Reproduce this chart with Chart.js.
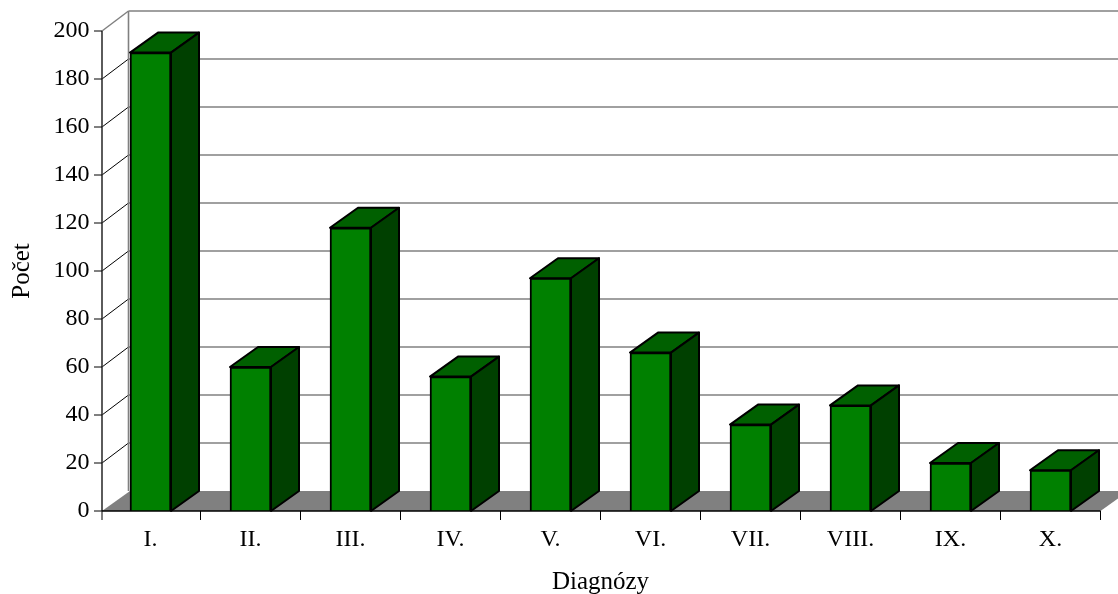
<!DOCTYPE html>
<html><head><meta charset="utf-8">
<style>html,body{margin:0;padding:0;background:#fff}canvas{display:block}</style>
<script src="https://cdn.jsdelivr.net/npm/chart.js@4/dist/chart.umd.min.js"></script>
</head><body><canvas id="c" width="1118" height="594"></canvas>
<script>
const categories = ["I.","II.","III.","IV.","V.","VI.","VII.","VIII.","IX.","X."];
const counts = [191,60,118,56,97,66,36,44,20,17];
const yMax = 200, yStep = 20;
const depthX = 28, depthY = 20, axisX = 102;
const fontFam = '"Liberation Serif","Times New Roman",serif';

function line(ctx,x1,y1,x2,y2,color,w){ctx.strokeStyle=color;ctx.lineWidth=w;ctx.beginPath();ctx.moveTo(x1,y1);ctx.lineTo(x2,y2);ctx.stroke();}
function poly(ctx,pts,fill,stroke,w){ctx.beginPath();pts.forEach((p,i)=>i?ctx.lineTo(p[0],p[1]):ctx.moveTo(p[0],p[1]));ctx.closePath();ctx.fillStyle=fill;ctx.fill();if(stroke){ctx.strokeStyle=stroke;ctx.lineWidth=w;ctx.lineJoin='round';ctx.stroke();}}

const box3d = {
  id:'box3d',
  beforeDatasetsDraw(chart){
    const ctx=chart.ctx,y=chart.scales.y,x=chart.scales.x,W=chart.width;
    const y0=y.getPixelForValue(0), xr=x.right;
    ctx.save();
    poly(ctx,[[axisX,y0],[axisX+depthX,y0-depthY],[xr+depthX,y0-depthY],[xr,y0]],'#808080');
    y.ticks.forEach(t=>{
      const py=y.getPixelForValue(t.value);
      if(t.value>0) line(ctx,axisX+depthX-1.5,py-depthY,W,py-depthY,'#808080',1.6);
      if(t.value>0 && t.value<yMax) line(ctx,axisX,py,axisX+depthX-1.5,py-depthY,'#000',1);
      if(t.value===yMax) line(ctx,axisX,py,axisX+depthX-1.5,py-depthY,'#808080',1.5);
    });
    line(ctx,axisX+depthX-1.5,y.getPixelForValue(yMax)-depthY,axisX+depthX-1.5,y0-depthY,'#808080',1.6);
    const m=chart.getDatasetMeta(0);
    m.data.forEach(b=>{
      const p=b.getProps(['x','y','base','width'],true);
      const l=p.x-p.width/2,r=p.x+p.width/2,t=p.y,bt=p.base;
      poly(ctx,[[l,t],[l+depthX,t-depthY],[r+depthX,t-depthY],[r,t]],'#006000','#000',2);
      poly(ctx,[[r,t],[r+depthX,t-depthY],[r+depthX,bt-depthY],[r,bt]],'#004000','#000',2);
    });
    ctx.restore();
  },
  afterDatasetsDraw(chart){
    const ctx=chart.ctx,y=chart.scales.y,x=chart.scales.x;
    const y0=y.getPixelForValue(0);
    ctx.save();
    line(ctx,axisX,y.getPixelForValue(yMax),axisX,y0,'#333',1.6);
    line(ctx,axisX,y0,x.right,y0,'#000',1.6);
    y.ticks.forEach(t=>{const py=y.getPixelForValue(t.value);line(ctx,axisX-8,py,axisX,py,'#000',1);});
    categories.forEach((c,i)=>{
      const px=i===0?axisX:x.getPixelForValue(i)-(x.getPixelForValue(1)-x.getPixelForValue(0))/2;
      line(ctx,px,y0,px,y0+9,'#000',1);
    });
    line(ctx,x.right,y0,x.right,y0+9,'#000',1);
    ctx.restore();
  }
};

new Chart(document.getElementById('c'),{
  type:'bar',
  data:{labels:categories,datasets:[{data:counts,backgroundColor:'#008000',borderColor:'#000',borderWidth:2,barThickness:41}]},
  plugins:[box3d],
  options:{
    responsive:false,animation:false,
    layout:{padding:{left:0,right:17.5,top:31,bottom:0}},
    plugins:{legend:{display:false},tooltip:{enabled:false}},
    scales:{
      x:{
        afterFit(s){s.height=83;},
        grid:{display:false},border:{display:false},
        ticks:{color:'#000',font:{family:fontFam,size:24},padding:6,maxRotation:0,autoSkip:false},
        title:{display:true,text:'Diagnózy',color:'#000',font:{family:fontFam,size:25},padding:{top:0,bottom:-3}}
      },
      y:{
        min:0,max:yMax,
        afterFit(s){s.width=100.5;},
        grid:{display:false},border:{display:false},
        ticks:{stepSize:yStep,color:'#000',font:{family:fontFam,size:24},padding:3},
        title:{display:true,text:'Počet',color:'#000',font:{family:fontFam,size:25},padding:{top:7,bottom:0}}
      }
    }
  }
});
</script></body></html>
